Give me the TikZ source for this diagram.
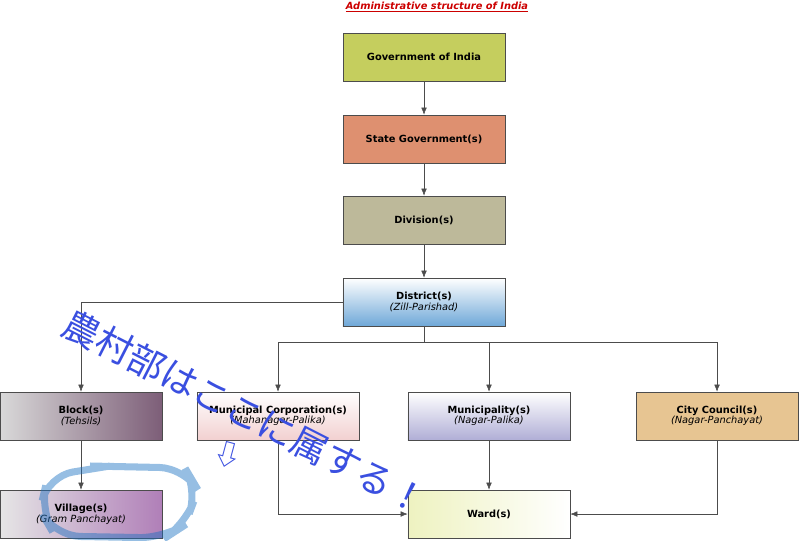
\documentclass[tikz,border=0pt]{standalone}
\usepackage{fontspec}
\setmainfont{DejaVu Sans}
\newfontfamily\cjk{Noto Sans CJK JP}
\usepackage{tikz}
\usetikzlibrary{arrows.meta}
\definecolor{govc}{HTML}{C5CE5E}
\definecolor{statec}{HTML}{DE9070}
\definecolor{divc}{HTML}{BDB99A}
\definecolor{distc}{HTML}{6FA8D8}
\definecolor{blockc}{HTML}{7D5E78}
\definecolor{corpc}{HTML}{F2D0D0}
\definecolor{munc}{HTML}{B0AED6}
\definecolor{cityc}{HTML}{E7C592}
\definecolor{villc}{HTML}{B07FB8}
\definecolor{wardc}{HTML}{EEF2C0}
\definecolor{inkc}{HTML}{3A4FE0}
\tikzset{
  unit/.style={draw=black!70, minimum width=4.05cm, minimum height=1.2cm, align=center, font=\fontsize{7}{8.5}\selectfont\bfseries},
  link/.style={draw=black!70, -{Latex[length=5pt,width=4pt]}},
}
\newcommand{\sub}[1]{\\[-1pt]{\mdseries\itshape #1}}
\begin{document}
\begin{tikzpicture}[x=0.025cm, y=-0.025cm]
		\useasboundingbox (0,0) rectangle (800,540);
		% title
		\node (title) at (437,7) {\fontsize{7}{8}\selectfont\bfseries\itshape\color{red!80!black}\underline{Administrative structure of India}};

		% upper chain
		\node[unit, fill=govc] (gov) at (424,57) {Government of India};
		\node[unit, fill=statec] (state) at (424,139) {State Government(s)};
		\node[unit, fill=divc] (div) at (424,220) {Division(s)};
		\node[unit, top color=white, bottom color=distc] (dist) at (424,302) {District(s)\sub{(Zill-Parishad)}};

		% lower level
		\node[unit, left color=black!15, right color=blockc] (block) at (81,416) {Block(s)\sub{(Tehsils)}};
		\node[unit, top color=white, bottom color=corpc] (corp) at (278,416) {Municipal Corporation(s)\sub{(Mahanagar-Palika)}};
		\node[unit, top color=white, bottom color=munc] (mun) at (489,416) {Municipality(s)\sub{(Nagar-Palika)}};
		\node[unit, fill=cityc] (city) at (717,416) {City Council(s)\sub{(Nagar-Panchayat)}};
		\node[unit, left color=black!10, right color=villc] (vill) at (81,514) {Village(s)\sub{(Gram Panchayat)}};
		\node[unit, left color=wardc, right color=white] (ward) at (489,514) {Ward(s)};

		% connectors
		\draw[link] (gov) -- (state);
		\draw[link] (state) -- (div);
		\draw[link] (div) -- (dist);
		\coordinate (split) at (424,342);
		\draw[draw=black!70] (dist) -- (split);
		\draw[link] (split) -| (corp);
		\draw[link] (split) -| (mun);
		\draw[link] (split) -| (city);
		\draw[link] (dist.west) -| (block);
		\draw[link] (block) -- (vill);
		\draw[link] (corp.south) |- (ward.west);
		\draw[link] (mun) -- (ward);
		\draw[link] (city.south) |- (ward.east);

		% handwritten note
		\node[inkc, rotate=-27, font=\cjk\fontsize{26}{26}\selectfont] (note) at (245,412) {農村部はここに属する！};
		\node[inkc, rotate=-15, font=\cjk\fontsize{20}{20}\selectfont] (hint) at (228,455) {⇩};
		\draw[cyan!50!blue, line width=5pt, opacity=0.45, rounded corners=18pt]
			(90,466) -- (185,468) -- (198,490) -- (185,525) -- (165,538) -- (55,536) -- (40,510) -- (48,476) -- (110,466);
\end{tikzpicture}
\end{document}
